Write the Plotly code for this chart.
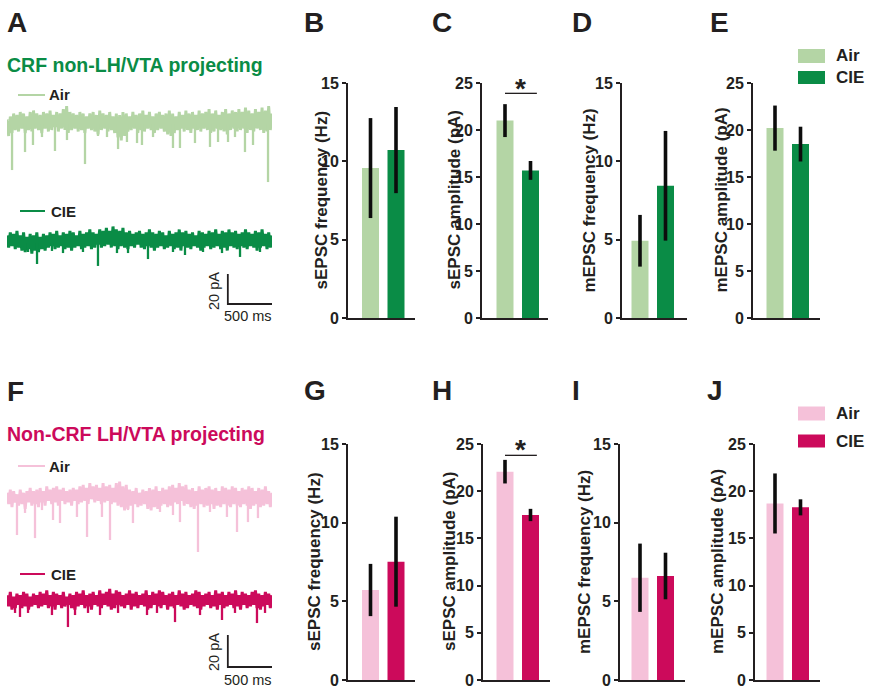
import plotly.graph_objects as go

W, H = 872, 694
def px(x): return x / W
def py(y): return 1 - y / H

# ---------------- data ----------------
groups = ["Air", "CIE"]
measures = ["sEPSC frequency (Hz)", "sEPSC amplitude (pA)",
            "mEPSC frequency (Hz)", "mEPSC amplitude (pA)"]
y_max = [15, 25, 15, 25]

crf_air_mean = [9.57, 21.0, 4.93, 20.2]
crf_air_sem = [3.19, 1.75, 1.65, 2.4]
crf_cie_mean = [10.72, 15.7, 8.44, 18.5]
crf_cie_sem = [2.75, 1.0, 3.5, 1.85]

non_air_mean = [5.72, 22.07, 6.5, 18.7]
non_air_sem = [1.66, 1.25, 2.17, 3.18]
non_cie_mean = [7.52, 17.48, 6.61, 18.29]
non_cie_sem = [2.86, 0.65, 1.48, 0.85]

# significance (measure index, bracket height)
crf_sig = [(1, 23.9)]
non_sig = [(1, 23.8)]

# example traces over 3000 ms: noise peaks / troughs (pA), events (ms, pA)
crf_air_top = [1, 3, 5, 4, 6, 5, 3, 6, 7, 5,
               4, 6, 5, 7, 4, 6, 5, 8, 10, 6,
               5, 4, 6, 5, 3, 5, 6, 4, 7, 5,
               4, 6, 3, 5, 4, 6, 5, 3, 6, 4,
               5, 7, 4, 6, 3, 5, 6, 4, 5, 7,
               5, 3, 6, 4, 7, 5, 6, 4, 7, 5,
               6, 8, 5, 7, 4, 6, 8, 5, 7, 6,
               8, 6, 9, 7, 5, 8, 6, 9, 7, 10, 5]
crf_air_bot = [-10, -8, -6, -7, -5, -8, -6, -7, -5, -6,
               -8, -5, -7, -6, -4, -7, -5, -6, -8, -6,
               -5, -7, -6, -8, -5, -6, -7, -9, -6, -5,
               -7, -6, -8, -11, -13, -10, -7, -6, -5, -8,
               -6, -7, -5, -6, -8, -6, -5, -7, -9, -10,
               -8, -6, -5, -7, -6, -8, -5, -6, -7, -5,
               -6, -8, -7, -5, -6, -7, -9, -6, -5, -7,
               -6, -5, -8, -6, -7, -5, -6, -8, -7, -6, -9]
crf_air_ev_t = [57, 204, 294, 396, 543, 679, 883, 1030, 1132, 1257, 1358, 1472, 1528, 1653,
                1879, 1958, 2128, 2298, 2389, 2502, 2581, 2694, 2785, 2955]
crf_air_ev_a = [-32.7, -20.7, -16, -10.7, -20, -12.7, -28.7, -10, -10.7, -18.7, -14, -14.7, -16, -10.7,
                -18, -18, -14.7, -17.3, -14, -14, -10.7, -20.7, -16, -40.7]

crf_cie_top = [3, 5, 4, 6, 3, 5, 2, 4, 3, 5,
               2, 4, 3, 5, 4, 6, 3, 5, 4, 6,
               5, 3, 6, 4, 5, 7, 5, 4, 7, 6,
               8, 6, 9, 7, 6, 8, 5, 6, 4, 5,
               6, 4, 5, 7, 5, 4, 6, 5, 3, 6,
               4, 5, 7, 5, 6, 4, 5, 3, 6, 5,
               4, 6, 5, 7, 4, 6, 5, 7, 5, 6,
               4, 5, 7, 5, 4, 6, 5, 7, 4, 5, 3]
crf_cie_bot = [-5, -4, -6, -5, -7, -8, -6, -9, -7, -8,
               -6, -7, -5, -4, -6, -5, -4, -6, -5, -7,
               -5, -4, -6, -5, -4, -6, -5, -3, -5, -4,
               -3, -5, -4, -6, -4, -5, -6, -4, -5, -3,
               -5, -6, -4, -5, -7, -5, -4, -6, -5, -4,
               -6, -5, -7, -4, -5, -6, -4, -5, -7, -5,
               -4, -6, -5, -4, -6, -5, -7, -4, -5, -6,
               -4, -5, -6, -4, -5, -7, -5, -4, -6, -5, -4]
crf_cie_ev_t = [238, 340, 509, 634, 860, 1030, 1245, 1370, 1596, 1879, 2015, 2219, 2434, 2638, 2864]
crf_cie_ev_a = [-8, -16, -7.3, -8.7, -8, -17.3, -8.7, -8.7, -12.7, -8, -10, -8, -8.7, -11.3, -8]

non_air_top = [2, 4, 3, 1, 4, 2, 3, 5, 3, 4,
               5, 3, 6, 4, 5, 6, 4, 5, 3, 4,
               5, 4, 6, 7, 5, 8, 6, 7, 5, 8,
               6, 7, 5, 8, 9, 6, 7, 4, 3, 5,
               2, 4, 3, 5, 4, 6, 3, 5, 4, 6,
               7, 5, 8, 6, 7, 4, 5, 3, 6, 4,
               5, 6, 4, 5, 3, 6, 5, 4, 6, 5,
               3, 5, 4, 6, 5, 3, 5, 4, 6, 3, 2]
non_air_bot = [-5, -7, -4, -6, -5, -8, -4, -6, -5, -7,
               -4, -6, -3, -5, -4, -6, -3, -5, -4, -6,
               -3, -5, -4, -3, -5, -2, -4, -3, -5, -4,
               -3, -5, -4, -6, -7, -9, -8, -6, -5, -7,
               -6, -5, -8, -9, -7, -8, -6, -5, -7, -6,
               -4, -5, -3, -6, -5, -7, -8, -6, -5, -7,
               -6, -5, -8, -6, -7, -5, -6, -7, -5, -6,
               -7, -5, -6, -8, -6, -5, -7, -6, -5, -7, -6]
non_air_ev_t = [113, 204, 317, 396, 521, 600, 792, 906, 1075, 1166, 1370, 1426, 1732, 1879,
                1958, 2162, 2298, 2490, 2604, 2728, 2841]
non_air_ev_a = [-24.4, -10.6, -26.3, -8.8, -15, -16.9, -13.1, -25.6, -13.1, -27.5, -8.8, -16.9, -10, -11.9,
                -16.3, -35, -10, -13.1, -22.5, -16.3, -13.8]

non_cie_top = [3, 5, 2, 4, 3, 5, 4, 2, 4, 3,
               5, 4, 6, 3, 5, 4, 3, 5, 2, 4,
               3, 5, 4, 6, 3, 4, 5, 3, 6, 4,
               5, 7, 4, 6, 5, 3, 4, 6, 4, 5,
               3, 4, 6, 3, 5, 4, 6, 5, 3, 4,
               5, 3, 6, 4, 5, 3, 4, 6, 5, 3,
               4, 5, 3, 6, 4, 5, 3, 5, 4, 6,
               3, 5, 4, 3, 5, 6, 4, 3, 5, 4, 3]
non_cie_bot = [-4, -6, -5, -3, -5, -4, -6, -4, -3, -5,
               -4, -3, -5, -4, -6, -3, -5, -4, -3, -5,
               -6, -4, -3, -5, -4, -6, -3, -4, -5, -3,
               -4, -6, -5, -3, -4, -5, -3, -6, -4, -5,
               -3, -4, -6, -5, -3, -4, -5, -3, -6, -4,
               -5, -3, -4, -6, -5, -3, -4, -5, -6, -4,
               -3, -5, -4, -6, -3, -5, -4, -3, -5, -4,
               -6, -3, -5, -4, -3, -5, -6, -4, -3, -5, -4]
non_cie_ev_t = [91, 147, 238, 509, 690, 770, 917, 1053, 1257, 1585, 1698, 1902, 2185, 2434, 2581, 2830, 2921]
non_cie_ev_a = [-8.1, -10.6, -8.1, -9.4, -16.9, -9.4, -8.1, -9.4, -8.1, -9.4, -8.1, -13.8, -9.4, -12.5,
                -8.1, -14.4, -8.1]
trace_ms = 3000

# ---------------- style ----------------
AIR_G, CIE_G = "#b4d5a5", "#0a8c46"
AIR_P, CIE_P = "#f5c1d9", "#cc0a5b"
INK = "#231f20"
FONT = "Liberation Sans, Arial, sans-serif"

fig = go.Figure()
layout = dict(width=W, height=H, margin=dict(l=0, r=0, t=0, b=0, pad=0, autoexpand=False),
              autosize=False, paper_bgcolor="white", plot_bgcolor="white", showlegend=False,
              font=dict(family=FONT, color=INK))
annotations = []
shapes = []

def ann(text, x, y, size, color=INK, weight="bold", xanchor="left", yanchor="middle", angle=0):
    annotations.append(dict(text=text, x=px(x), y=py(y), xref="paper", yref="paper",
                            showarrow=False, xanchor=xanchor, yanchor=yanchor, textangle=angle,
                            font=dict(family=FONT, size=size, color=color, weight=weight)))

# ---------------- bar panels ----------------
rows = [
    dict(letters=["B", "C", "D", "E"], air=crf_air_mean, air_e=crf_air_sem, cie=crf_cie_mean,
         cie_e=crf_cie_sem, ca=AIR_G, cc=CIE_G, left=[348, 482, 622, 753], right=[415, 548, 687, 820],
         c0=[370.5, 505, 640, 775], ytop=83, ybot=318, title_x=[321, 454, 589, 721],
         letter_x=[302, 430, 570, 708], letter_y=22, sig=crf_sig, star_y=82),
    dict(letters=["G", "H", "I", "J"], air=non_air_mean, air_e=non_air_sem, cie=non_cie_mean,
         cie_e=non_cie_sem, ca=AIR_P, cc=CIE_P, left=[348, 483, 620, 755], right=[415, 550, 685, 820],
         c0=[370.5, 505, 640, 775], ytop=444, ybot=680, title_x=[314, 449, 584, 717],
         letter_x=[302, 430, 570, 705], letter_y=390, sig=non_sig, star_y=443),
]
SP, BW = 25.5, 17
n = 0
for r in rows:
    for k in range(4):
        n += 1
        xa = "x" if n == 1 else f"x{n}"
        ya = "y" if n == 1 else f"y{n}"
        L, R, c0 = r["left"][k], r["right"][k], r["c0"][k]
        fig.add_trace(go.Bar(
            x=[0, 1], y=[r["air"][k], r["cie"][k]], width=BW / SP,
            marker=dict(color=[r["ca"], r["cc"]], line=dict(width=0)),
            error_y=dict(type="data", array=[r["air_e"][k], r["cie_e"][k]], color="#0d0d0d",
                         thickness=3.6, width=0),
            xaxis=xa, yaxis=ya, hoverinfo="skip"))
        layout["xaxis" if n == 1 else f"xaxis{n}"] = dict(
            domain=[px(L), px(R)], range=[-(c0 - L) / SP, (R - c0) / SP], anchor=ya,
            showline=True, linecolor=INK, linewidth=2, showticklabels=False, ticks="",
            showgrid=False, zeroline=False, fixedrange=True)
        layout["yaxis" if n == 1 else f"yaxis{n}"] = dict(
            domain=[py(r["ybot"]), py(r["ytop"])], range=[0, y_max[k]], anchor=xa,
            tickvals=list(range(0, y_max[k] + 1, 5)), ticks="outside", ticklen=4, tickwidth=2,
            tickcolor=INK, showline=True, linecolor=INK, linewidth=2, showgrid=False,
            zeroline=False, fixedrange=True,
            tickfont=dict(family=FONT, size=16, color=INK, weight="bold"))
        ann(measures[k], r["title_x"][k], (r["ytop"] + r["ybot"]) / 2, 17, xanchor="center", angle=-90)
        ann(r["letters"][k], r["letter_x"][k], r["letter_y"], 28)
        for (mi, yb) in r["sig"]:
            if mi == k:
                shapes.append(dict(type="line", xref=xa, yref=ya, x0=0, x1=1.25, y0=yb, y1=yb,
                                   line=dict(color=INK, width=1.3)))
                ann("*", c0 + 0.62 * SP, r["star_y"] + 6, 28, xanchor="center")

# legends near E and J
for (yA, yC, ca, cc) in [(56, 77.5, AIR_G, CIE_G), (413.5, 441, AIR_P, CIE_P)]:
    shapes.append(dict(type="rect", xref="paper", yref="paper", x0=px(798), x1=px(825),
                       y0=py(yA + 7), y1=py(yA - 7), fillcolor=ca, line=dict(width=0)))
    shapes.append(dict(type="rect", xref="paper", yref="paper", x0=px(798), x1=px(825),
                       y0=py(yC + 6.5), y1=py(yC - 6.5), fillcolor=cc, line=dict(width=0)))
    ann(groups[0], 834, yA, 17)
    ann(groups[1], 834, yC, 17)

# ---------------- trace panels ----------------
def add_ephys(top, bot, ev_t, ev_a, off, color, xa, ya, lw):
    dt = trace_ms / (len(top) - 1)
    zx, zy = [], []
    for i, (a, b) in enumerate(zip(top, bot)):
        zx += [i * dt, i * dt + dt / 2]
        zy += [a + off, b + off]
    fig.add_trace(go.Scatter(x=zx[:-1], y=zy[:-1], mode="lines", line=dict(color=color, width=lw),
                             xaxis=xa, yaxis=ya, hoverinfo="skip"))
    ex, ey = [], []
    for te, a in zip(ev_t, ev_a):
        ex += [te, te, None]
        ey += [off - 2, off + a, None]
    fig.add_trace(go.Scatter(x=ex, y=ey, mode="lines", line=dict(color=color, width=2.3),
                             xaxis=xa, yaxis=ya, hoverinfo="skip"))

# panel A: 1.5 px/pA, air baseline at y=121 px, CIE baseline at 240 px
# panel F: 1.6 px/pA, air baseline at y=496 px, CIE baseline at 600 px
tp = [
    dict(xa="x9", ya="y9", k=1.5, base=121, top_px=90, bot_px=330, cie_px=240,
         air=(crf_air_top, crf_air_bot, crf_air_ev_t, crf_air_ev_a),
         cie=(crf_cie_top, crf_cie_bot, crf_cie_ev_t, crf_cie_ev_a), ca=AIR_G, cc=CIE_G,
         bar_top=274, title="CRF non-LH/VTA projecting", ty=65, letter="A", ly=22,
         air_lab=95, cie_lab=211, s_lab_y=291, ms_y=316),
    dict(xa="x10", ya="y10", k=1.6, base=496, top_px=460, bot_px=690, cie_px=600,
         air=(non_air_top, non_air_bot, non_air_ev_t, non_air_ev_a),
         cie=(non_cie_top, non_cie_bot, non_cie_ev_t, non_cie_ev_a), ca=AIR_P, cc=CIE_P,
         bar_top=635, title="Non-CRF LH/VTA projecting", ty=434, letter="F", ly=391,
         air_lab=466, cie_lab=574, s_lab_y=652, ms_y=680),
]
for p in tp:
    k, base = p["k"], p["base"]
    ymaxv = (base - p["top_px"]) / k
    yminv = -(p["bot_px"] - base) / k
    cie_off = -(p["cie_px"] - base) / k
    add_ephys(*p["air"], 0, p["ca"], p["xa"], p["ya"], 2.9)
    add_ephys(*p["cie"], cie_off, p["cc"], p["xa"], p["ya"], 3.0)
    layout["xaxis" + p["xa"][1:]] = dict(domain=[px(7), px(272)], range=[0, trace_ms], visible=False,
                                         anchor=p["ya"], fixedrange=True)
    layout["yaxis" + p["ya"][1:]] = dict(domain=[py(p["bot_px"]), py(p["top_px"])],
                                         range=[yminv, ymaxv], visible=False, anchor=p["xa"],
                                         fixedrange=True)
    # scale bar 20 pA / 500 ms
    y0 = -(p["bar_top"] - base) / k
    y1 = y0 - 20
    shapes.append(dict(type="path", xref=p["xa"], yref=p["ya"],
                       path=f"M 2500,{y0} L 2500,{y1} L 3000,{y1}",
                       line=dict(color=INK, width=1.8)))
    ann("20 pA", 214, p["s_lab_y"], 14.5, weight="normal", xanchor="center", angle=-90)
    ann("500 ms", 248, p["ms_y"], 14.5, weight="normal", xanchor="center")
    ann(p["letter"], 5, p["ly"], 28)
    ann(p["title"], 5, p["ty"], 19.5, color=p["cc"])
    # trace labels
    shapes.append(dict(type="line", xref="paper", yref="paper", x0=px(18), x1=px(45),
                       y0=py(p["air_lab"]), y1=py(p["air_lab"]), line=dict(color=p["ca"], width=2)))
    shapes.append(dict(type="line", xref="paper", yref="paper", x0=px(20), x1=px(45),
                       y0=py(p["cie_lab"]), y1=py(p["cie_lab"]), line=dict(color=p["cc"], width=2)))
    ann(groups[0], 47, p["air_lab"], 15)
    ann(groups[1], 49, p["cie_lab"], 15)

layout["annotations"] = annotations
layout["shapes"] = shapes
fig.update_layout(**layout)
fig.write_html(
    "out.html",
    config={"displayModeBar": False},
    post_script=(
        "document.documentElement.style.margin='0';document.body.style.margin='0';"
        "document.documentElement.style.overflow='hidden';document.body.style.overflow='hidden';"
        "var g=document.getElementById('{plot_id}');g.style.position='fixed';"
        "g.style.left='0px';g.style.top='0px';"
    ),
)
